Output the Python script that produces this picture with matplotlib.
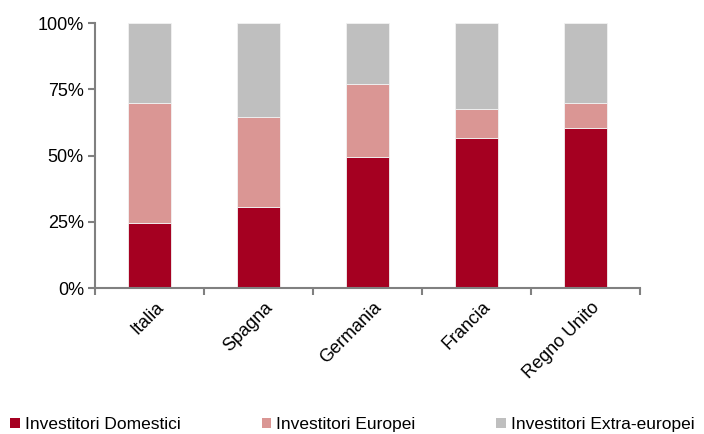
import numpy as np
import matplotlib.pyplot as plt
from matplotlib.patches import Patch

plt.rcParams['font.family'] = ['Liberation Sans', 'DejaVu Sans']

# dati (quote percentuali)
paesi = ['Italia', 'Spagna', 'Germania', 'Francia', 'Regno Unito']
domestici = [24.5, 30.5, 49.5, 56.7, 60.5]
europei = [45.5, 34.0, 27.6, 11.0, 9.3]
extra = [30.0, 35.5, 22.9, 32.3, 30.2]
serie = ['Investitori Domestici', 'Investitori Europei', 'Investitori Extra-europei']
colori = ['#A50021', '#DA9694', '#BFBFBF']

fig = plt.figure(figsize=(7.04, 4.34), dpi=100)
ax = fig.add_axes([0.135, 0.336, 0.774, 0.611])

x = np.arange(len(paesi))
base = np.zeros(len(paesi))
for valori, col in zip([domestici, europei, extra], colori):
    ax.bar(x, valori, bottom=base, width=0.4, color=col, edgecolor='#f2f2f2', linewidth=0.6)
    base = base + np.array(valori)

ax.set_xlim(-0.5, len(paesi) - 0.5)
ax.set_ylim(0, 100)
ax.set_yticks([0, 25, 50, 75, 100])
ax.set_yticklabels(['0%', '25%', '50%', '75%', '100%'], fontsize=13)

# tacche dell'asse x tra le categorie
ax.set_xticks(np.arange(-0.5, len(paesi), 1.0))
ax.set_xticklabels([])
ax.tick_params(axis='x', length=5, color='#808080', width=1.5)
ax.tick_params(axis='y', length=5, color='#808080', width=1.5, pad=3)
for i, p in enumerate(paesi):
    ax.text(i + 0.05, -4, p, rotation=45, ha='right', va='top', rotation_mode='anchor',
            fontsize=13, transform=ax.transData)

for lato in ['top', 'right']:
    ax.spines[lato].set_visible(False)
for lato in ['left', 'bottom']:
    ax.spines[lato].set_color('#808080')
    ax.spines[lato].set_linewidth(1.5)

maniglie = [Patch(facecolor=c, edgecolor='none') for c in colori]
fig.legend(maniglie, serie, loc='lower left', bbox_to_anchor=(0.005, -0.012), ncol=3,
           frameon=False, fontsize=12.5, handlelength=0.55, handleheight=0.55,
           handletextpad=0.3, columnspacing=4.65, borderaxespad=0)

fig.savefig('out.png', dpi=100)
